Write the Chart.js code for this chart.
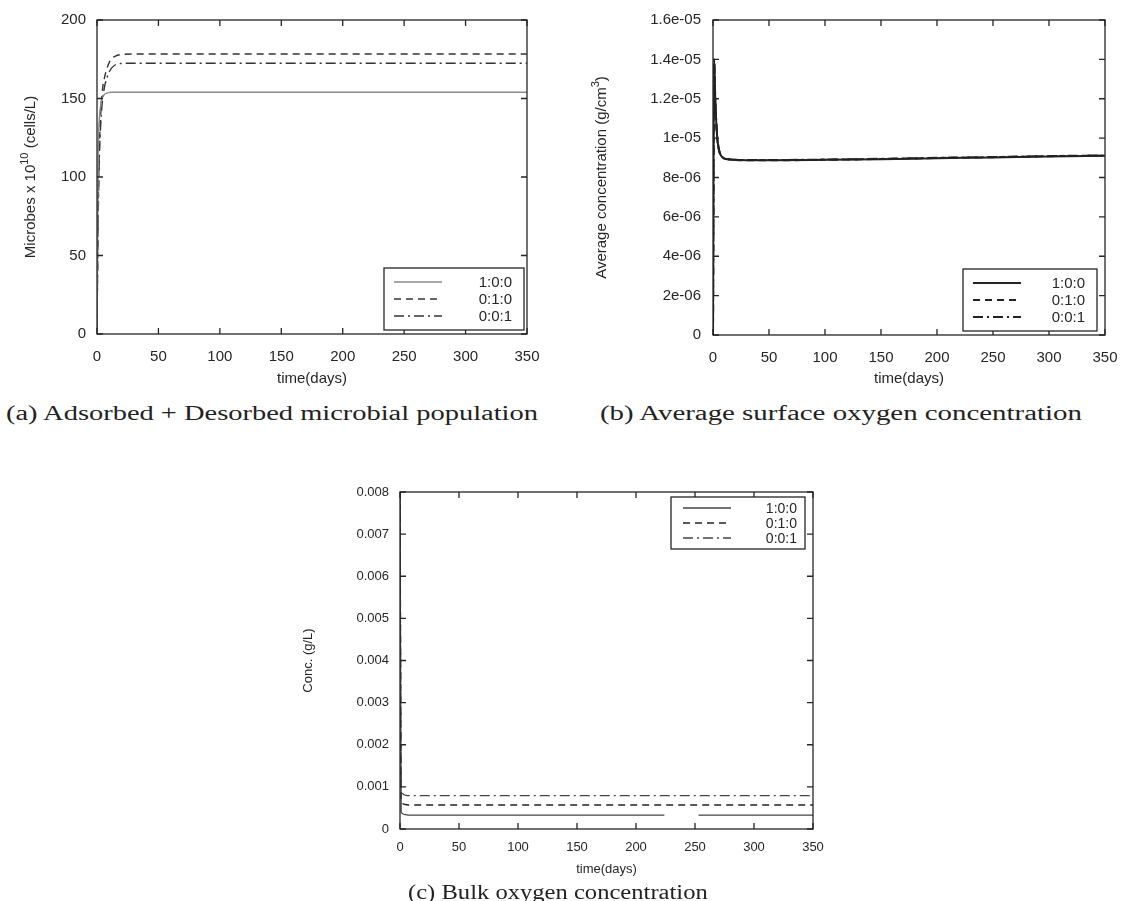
<!DOCTYPE html>
<html>
<head>
<meta charset="utf-8">
<script src="https://cdn.jsdelivr.net/npm/chart.js@4"></script>
<style>
  html, body { margin: 0; padding: 0; background: #fff; }
  body { width: 1127px; height: 901px; position: relative; overflow: hidden; }
  .panel { position: absolute; }
  .cap { position: absolute; font-family: "Liberation Serif", "DejaVu Serif", serif; font-size: 20px; line-height: 20px; color: #222; white-space: nowrap; transform-origin: left center; }
</style>
</head>
<body>
<div class="panel" id="wa" style="left:0;top:0;width:560px;height:400px"><canvas id="ca"></canvas></div>
<div class="panel" id="wb" style="left:570px;top:0;width:557px;height:400px"><canvas id="cb"></canvas></div>
<div class="panel" id="wc" style="left:280px;top:440px;width:580px;height:445px"><canvas id="cc"></canvas></div>
<div class="cap" id="capA" style="left:6px;top:403px">(a) Adsorbed + Desorbed microbial population</div>
<div class="cap" id="capB" style="left:600px;top:403px">(b) Average surface oxygen concentration</div>
<div class="cap" id="capC" style="left:408px;top:882px">(c) Bulk oxygen concentration</div>
<script>
const labels = ['1:0:0', '0:1:0', '0:0:1'];

// (a) microbes x 10^10 (cells/L)
const daysA = [0, 1, 2, 3, 4, 5, 6, 8, 10, 12, 15, 20, 30, 50, 100, 150, 200, 250, 300, 350];
const microbes100 = [2, 115, 138, 146, 149.5, 151.5, 152.5, 153.4, 153.8, 154, 154, 154, 154, 154, 154, 154, 154, 154, 154, 154];
const microbes010 = [2, 80, 120, 140, 152, 159, 163, 169, 173, 175.5, 177, 178, 178.3, 178.3, 178.3, 178.3, 178.3, 178.3, 178.3, 178.3];
const microbes001 = [2, 75, 115, 133, 145, 152, 157, 163, 167, 169.5, 171.5, 172.3, 172.5, 172.5, 172.5, 172.5, 172.5, 172.5, 172.5, 172.5];

// (b) average surface oxygen concentration (g/cm3)
const daysB = [0, 1, 2, 3, 4, 5, 6, 8, 10, 15, 20, 30, 50, 100, 150, 200, 250, 300, 350];
const surf100 = [0, 1.40e-5, 1.20e-5, 1.07e-5, 9.9e-6, 9.5e-6, 9.25e-6, 9.05e-6, 8.97e-6, 8.92e-6, 8.9e-6, 8.88e-6, 8.88e-6, 8.9e-6, 8.93e-6, 8.98e-6, 9.02e-6, 9.07e-6, 9.1e-6];
const surf010 = [0, 1.39e-5, 1.19e-5, 1.06e-5, 9.85e-6, 9.48e-6, 9.24e-6, 9.04e-6, 8.96e-6, 8.91e-6, 8.89e-6, 8.87e-6, 8.87e-6, 8.9e-6, 8.94e-6, 8.99e-6, 9.03e-6, 9.08e-6, 9.11e-6];
const surf001 = [0, 1.40e-5, 1.21e-5, 1.08e-5, 9.95e-6, 9.52e-6, 9.27e-6, 9.06e-6, 8.98e-6, 8.93e-6, 8.9e-6, 8.89e-6, 8.89e-6, 8.91e-6, 8.95e-6, 9.0e-6, 9.04e-6, 9.09e-6, 9.12e-6];
const ticksB = ['0', '2e-06', '4e-06', '6e-06', '8e-06', '1e-05', '1.2e-05', '1.4e-05', '1.6e-05'];

// (c) bulk oxygen concentration (g/L)
const daysC = [0, 1, 2, 3, 5, 8, 10, 15, 20, 50, 100, 150, 200, 224, 225, 252, 253, 300, 350];
const bulk100 = [0.008, 0.0004, 0.00037, 0.00035, 0.00034, 0.00033, 0.00033, 0.00033, 0.00033, 0.00033, 0.00033, 0.00033, 0.00033, 0.00033, null, null, 0.00033, 0.00033, 0.00033];
const bulk010 = [0.008, 0.00065, 0.00061, 0.00059, 0.00058, 0.00057, 0.00057, 0.00057, 0.00057, 0.00057, 0.00057, 0.00057, 0.00057, 0.00057, 0.00057, 0.00057, 0.00057, 0.00057, 0.00057];
const bulk001 = [0.008, 0.00088, 0.00084, 0.00082, 0.0008, 0.00079, 0.00079, 0.00079, 0.00079, 0.00079, 0.00079, 0.00079, 0.00079, 0.00079, 0.00079, 0.00079, 0.00079, 0.00079, 0.00079];
const ticksC = ['0', '0.001', '0.002', '0.003', '0.004', '0.005', '0.006', '0.007', '0.008'];

// y titles as [text, superscript?] pieces
const titleA = [['Microbes x 10', false], ['10', true], [' (cells/L)', false]];
const titleB = [['Average concentration (g/cm', false], ['3', true], [')', false]];
const titleC = [['Conc. (g/L)', false]];

const dashes = [[], [7, 5], [10, 4, 2, 4]];
const ink = '#262626';
const sans = '"Liberation Sans", Arial, sans-serif';

// gnuplot-style frame, inward mirrored ticks, y title and boxed key
const frame = {
  id: 'frame',
  afterDatasetsDraw(chart, args, o) {
    const { ctx, chartArea: a, scales: { x, y } } = chart;
    ctx.save();
    ctx.strokeStyle = ink;
    ctx.lineWidth = 1.3;
    ctx.setLineDash([]);
    ctx.strokeRect(a.left, a.top, a.right - a.left, a.bottom - a.top);
    ctx.beginPath();
    x.ticks.forEach(t => {
      const px = x.getPixelForValue(t.value);
      ctx.moveTo(px, a.bottom); ctx.lineTo(px, a.bottom - 6);
      ctx.moveTo(px, a.top); ctx.lineTo(px, a.top + 6);
    });
    y.ticks.forEach(t => {
      const py = y.getPixelForValue(t.value);
      ctx.moveTo(a.left, py); ctx.lineTo(a.left + 6, py);
      ctx.moveTo(a.right, py); ctx.lineTo(a.right - 6, py);
    });
    ctx.stroke();

    // rotated y title with superscripts
    const big = o.font + 'px ' + sans, small = Math.round(o.font * 0.7) + 'px ' + sans;
    let tw = 0;
    o.title.forEach(([t, sup]) => { ctx.font = sup ? small : big; tw += ctx.measureText(t).width; });
    ctx.translate(o.tx, (a.top + a.bottom) / 2);
    ctx.rotate(-Math.PI / 2);
    ctx.fillStyle = ink;
    ctx.textAlign = 'left';
    ctx.textBaseline = 'middle';
    let cx = -tw / 2;
    o.title.forEach(([t, sup]) => {
      ctx.font = sup ? small : big;
      ctx.fillText(t, cx, sup ? -o.font * 0.4 : 0);
      cx += ctx.measureText(t).width;
    });
    ctx.setTransform(1, 0, 0, 1, 0, 0);
    ctx.restore();
    ctx.save();

    const n = chart.data.datasets.length;
    const h = o.first * 2 + (n - 1) * o.rowH;
    const x2 = a.right - o.mx, x1 = x2 - o.w;
    const y1 = o.corner === 'tr' ? a.top + o.my : a.bottom - o.my - h;
    ctx.strokeStyle = ink;
    ctx.lineWidth = 1.3;
    ctx.fillStyle = '#fff';
    ctx.fillRect(x1, y1, o.w, h);
    ctx.strokeRect(x1, y1, o.w, h);
    ctx.font = o.keyFont + 'px ' + sans;
    ctx.textAlign = 'right';
    ctx.textBaseline = 'middle';
    chart.data.datasets.forEach((ds, i) => {
      const ry = y1 + o.first + i * o.rowH;
      ctx.strokeStyle = ds.borderColor;
      ctx.lineWidth = ds.borderWidth;
      ctx.setLineDash(ds.borderDash);
      ctx.beginPath();
      ctx.moveTo(x1 + o.l1, ry); ctx.lineTo(x1 + o.l2, ry);
      ctx.stroke();
      ctx.fillStyle = ink;
      ctx.fillText(ds.label, x2 - o.tr, ry + 1);
    });
    ctx.restore();
  }
};

function series(days, vals) {
  return days.map((d, i) => ({ x: d, y: vals[i] }));
}

function makePanel(id, cfg) {
  const datasets = cfg.values.map((v, i) => ({
    label: labels[i],
    data: series(cfg.days, v),
    borderColor: cfg.colors[i],
    borderWidth: cfg.widths[i],
    borderDash: dashes[i],
    pointRadius: 0,
    fill: false,
    spanGaps: false,
    cubicInterpolationMode: 'monotone'
  }));
  const f = cfg.font;
  return new Chart(document.getElementById(id), {
    type: 'line',
    data: { datasets },
    plugins: [frame],
    options: {
      responsive: true,
      maintainAspectRatio: false,
      animation: false,
      layout: { padding: cfg.pad },
      plugins: { legend: { display: false }, tooltip: { enabled: false }, frame: Object.assign({ title: cfg.ytitle, font: f, tx: cfg.tx }, cfg.key) },
      scales: {
        x: {
          type: 'linear', min: 0, max: 350,
          afterFit: s => { s.height = cfg.xh; },
          ticks: { stepSize: 50, padding: cfg.xtp, color: ink, font: { family: 'Liberation Sans', size: f }, maxRotation: 0 },
          grid: { display: false },
          border: { display: false },
          title: { display: true, text: 'time(days)', color: ink, font: { family: 'Liberation Sans', size: f }, padding: { top: cfg.xtt, bottom: cfg.xtt } }
        },
        y: {
          type: 'linear', min: 0, max: cfg.ymax,
          afterFit: s => { s.width = cfg.yw; },
          ticks: { stepSize: cfg.ystep, padding: cfg.ytp, color: ink, font: { family: 'Liberation Sans', size: f },
                   callback: cfg.yticks ? (v, i) => cfg.yticks[i] : v => v },
          grid: { display: false },
          border: { display: false }
        }
      }
    }
  });
}

makePanel('ca', {
  days: daysA, values: [microbes100, microbes010, microbes001],
  colors: ['#8a8a8a', '#333', '#333'], widths: [1.4, 1.4, 1.4],
  ymax: 200, ystep: 50, ytitle: titleA, tx: 31,
  pad: { top: 20, right: 33, left: 0, bottom: 0 }, yw: 97, xh: 66,
  font: 15, xtp: 6, xtt: 12, ytp: 3,
  key: { corner: 'br', w: 140, rowH: 17, first: 14, mx: 3, my: 4, l1: 10, l2: 58, tr: 12, keyFont: 15 }
});

makePanel('cb', {
  days: daysB, values: [surf100, surf010, surf001],
  colors: ['#222', '#222', '#222'], widths: [2, 2, 2],
  ymax: 1.6e-5, ystep: 2e-6, yticks: ticksB, ytitle: titleB, tx: 32,
  pad: { top: 20, right: 22, left: 0, bottom: 0 }, yw: 143, xh: 65,
  font: 15, xtp: 6, xtt: 12, ytp: 4,
  key: { corner: 'br', w: 134, rowH: 17, first: 14, mx: 8, my: 4, l1: 10, l2: 58, tr: 12, keyFont: 15 }
});

makePanel('cc', {
  days: daysC, values: [bulk100, bulk010, bulk001],
  colors: ['#444', '#222', '#444'], widths: [1.3, 1.5, 1.3],
  ymax: 0.008, ystep: 0.001, yticks: ticksC, ytitle: titleC, tx: 28,
  pad: { top: 52, right: 47, left: 0, bottom: 0 }, yw: 120, xh: 56,
  font: 13, xtp: 3, xtt: 8, ytp: 3,
  key: { corner: 'tr', w: 134, rowH: 15, first: 11, mx: 8, my: 5, l1: 12, l2: 60, tr: 8, keyFont: 14 }
});

// stretch captions to the printed width
[['capA', 532], ['capB', 482], ['capC', 300]].forEach(([id, w]) => {
  const el = document.getElementById(id);
  el.style.transform = 'scaleX(' + (w / el.offsetWidth) + ')';
});
</script>
</body>
</html>
